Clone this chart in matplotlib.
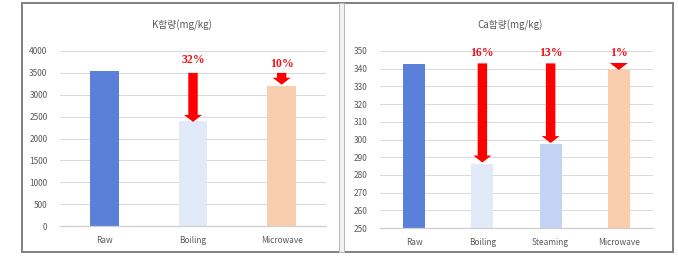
import matplotlib
matplotlib.use("Agg")
import matplotlib.pyplot as plt
from matplotlib.patches import Rectangle

plt.rcParams['font.family'] = ['Noto Sans CJK KR', 'DejaVu Sans']

# ---- data ----
k_categories = ["Raw", "Boiling", "Microwave"]
k_values = [3550, 2400, 3200]
k_colors = ["#5B80DA", "#E2EAFA", "#F9CDAD"]
k_arrow_start = [None, 3500, 3500]
k_arrow_end = [None, 2380, 3230]
k_pct = [None, "32%", "10%"]
k_pct_y = [None, 3800, 3700]
k_ticks = [0, 500, 1000, 1500, 2000, 2500, 3000, 3500, 4000]
k_title = "K함량(mg/kg)"

ca_categories = ["Raw", "Boiling", "Steaming", "Microwave"]
ca_values = [342.5, 286, 297.5, 340]
ca_colors = ["#5B80DA", "#E2EAFA", "#C4D3F3", "#F9CDAD"]
ca_arrow_start = [None, 343, 343, 343]
ca_arrow_end = [None, 287, 298, 339.3]
ca_pct = [None, "16%", "13%", "1%"]
ca_pct_y = [None, 348.8, 348.8, 348.8]
ca_ticks = [250, 260, 270, 280, 290, 300, 310, 320, 330, 340, 350]
ca_title = "Ca함량(mg/kg)"

W, H = 678, 256
fig = plt.figure(figsize=(W / 100, H / 100), dpi=100)
fig.patch.set_facecolor("white")

# frames
fig.add_artist(Rectangle((22 / W, 1 - 252 / H), (673 - 22) / W, (252 - 3) / H,
                         transform=fig.transFigure, fill=False,
                         edgecolor="#808080", linewidth=1.4))
fig.add_artist(Rectangle((339 / W, 1 - 252 / H), 5 / W, (252 - 3) / H,
                         transform=fig.transFigure, fill=True,
                         facecolor="#f2f2f2", edgecolor="#b8b8b8", linewidth=0.7))


def draw(ax, cats, vals, colors, a_start, a_end, pct, pct_y, ticks, head_w, head_l, tail_w):
    x = list(range(len(cats)))
    ax.bar(x, vals, width=0.32, color=colors, zorder=2)
    ax.set_xlim(-0.5, len(cats) - 0.5)
    ax.set_ylim(ticks[0], ticks[-1])
    ax.set_yticks(ticks)
    ax.set_xticks(x)
    ax.set_xticklabels(cats)
    ax.tick_params(axis='both', length=0, labelsize=6, labelcolor="#595959")
    ax.tick_params(axis='y', pad=9)
    ax.tick_params(axis='x', pad=7)
    for s in ["left", "right", "top"]:
        ax.spines[s].set_visible(False)
    ax.spines["bottom"].set_color("#cfcfcf")
    ax.spines["bottom"].set_linewidth(0.9)
    ax.grid(axis='y', color="#d9d9d9", linewidth=0.7, zorder=0)
    ax.set_axisbelow(True)
    for i in x:
        if a_start[i] is None:
            continue
        ax.annotate("", xy=(i, a_end[i]), xytext=(i, a_start[i]),
                    arrowprops=dict(arrowstyle=f"simple,head_width={head_w},head_length={head_l},tail_width={tail_w}",
                                    color="#ff0000", shrinkA=0, shrinkB=0, linewidth=0),
                    zorder=4)
        ax.text(i, pct_y[i], pct[i], ha="center", va="center", color="#e8141c",
                fontsize=8.5, fontweight="bold", family="Liberation Serif", zorder=5)


ax1 = fig.add_axes([60 / W, 1 - 226 / H, 266 / W, 175 / H])
draw(ax1, k_categories, k_values, k_colors, k_arrow_start, k_arrow_end, k_pct, k_pct_y,
     k_ticks, 1.3, 0.5, 0.68)
ax2 = fig.add_axes([380 / W, 1 - 228 / H, 273 / W, 177 / H])
draw(ax2, ca_categories, ca_values, ca_colors, ca_arrow_start, ca_arrow_end, ca_pct, ca_pct_y,
     ca_ticks, 1.3, 0.5, 0.68)

fig.text(182 / W, 1 - 25 / H, k_title, ha="center", va="center", fontsize=7, color="#595959")
fig.text(510 / W, 1 - 25 / H, ca_title, ha="center", va="center", fontsize=7, color="#595959")

fig.savefig("out.png", dpi=100, facecolor="white")
